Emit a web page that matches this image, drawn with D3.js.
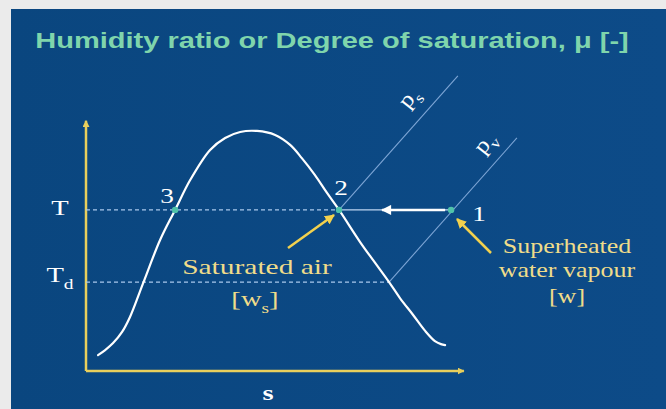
<!DOCTYPE html>
<html>
<head>
<meta charset="utf-8">
<script src="https://cdn.jsdelivr.net/npm/d3@7"></script>
<style>
  body { margin: 0; background: #ebebeb; }
  svg { display: block; }
</style>
</head>
<body>
<svg id="chart" width="666" height="409"></svg>
<script>
// saturation dome (entropy s vs temperature T), schematic units 0-100
const domeS = [3.2, 5.1, 7.2, 9.6, 11.7, 15.2, 19.7, 23.7, 27.7, 33.0, 37.0, 41.0, 45.5, 50.3, 54.3, 57.4, 60.9, 64.1, 67.3, 72.9, 76.9, 80.6, 83.5, 87.0, 90.2, 92.8, 94.4, 95.5];
const domeT = [6.4, 8.4, 11.2, 15.7, 21.7, 35.3, 52.6, 64.7, 76.7, 88.8, 93.6, 96.0, 96.4, 94.8, 90.8, 85.5, 78.7, 71.5, 64.7, 51.8, 43.4, 35.7, 29.3, 22.5, 16.1, 12.0, 10.8, 10.4];

// temperature levels
const levelNames = ['T', 'Td'];
const levelValues = [64.7, 35.7];
const levelEnds = [67.3, 80.6]; // dashed line ends (s)

// state points
const pointNames = ['1', '2', '3'];
const pointS = [97.1, 67.3, 23.7];
const pointT = [64.7, 64.7, 64.7];

// isobars
const psS = [67.3, 98.9];
const psT = [64.7, 118.5];
const pvS = [80.6, 114.6];
const pvT = [35.7, 93.6];

const title = 'Humidity ratio or Degree of saturation, \u03bc [-]';

const svg = d3.select('#chart');
const W = 666, H = 409;
const sx = 1.3; // slide is stretched horizontally

const defs = svg.append('defs');
const grad = defs.append('linearGradient').attr('id', 'bg').attr('x1', 0).attr('x2', 1).attr('y1', 0).attr('y2', 0);
grad.append('stop').attr('offset', 0).attr('stop-color', '#0a467f');
grad.append('stop').attr('offset', 1).attr('stop-color', '#0d4b88');

svg.append('rect').attr('x', 11).attr('y', 9).attr('width', W - 11).attr('height', H - 9).attr('fill', 'url(#bg)');

function marker(id, color, w, h) {
  defs.append('marker')
    .attr('id', id)
    .attr('viewBox', '0 0 10 10')
    .attr('refX', 9).attr('refY', 5)
    .attr('markerUnits', 'userSpaceOnUse')
    .attr('markerWidth', w).attr('markerHeight', h)
    .attr('orient', 'auto')
    .append('path').attr('d', 'M0,0 L10,5 L0,10 z').attr('fill', color);
}
marker('axisHead', '#e9cf5c', 7, 7);
marker('whiteHead', '#ffffff', 11, 10);
marker('yellowHead', '#f2d14e', 10, 10);

// scales
const x = d3.scaleLinear().domain([0, 100]).range([86, 462]);
const y = d3.scaleLinear().domain([0, 100]).range([371, 122]);

const serif = '"Liberation Serif", "Times New Roman", serif';

function label(px, py, txt, size, color, opts = {}) {
  const t = svg.append('text')
    .attr('transform', `translate(${px},${py}) ${opts.rot ? 'rotate(' + opts.rot + ')' : ''} scale(${opts.k || sx},1)`)
    .attr('text-anchor', opts.anchor || 'middle')
    .attr('font-family', opts.font || serif)
    .attr('font-size', size)
    .attr('font-weight', opts.weight || 'normal')
    .attr('fill', color);
  if (opts.sub) {
    t.append('tspan').text(txt);
    t.append('tspan').attr('dy', size * 0.3).attr('font-size', size * 0.68).text(opts.sub);
  } else {
    t.text(txt);
  }
  return t;
}

// title
label(332, 48, title, 22, '#7fd5ac', { font: '"Liberation Sans", Arial, sans-serif', weight: 'bold', k: 1.32 });

// axes
svg.append('line')
  .attr('x1', x(0)).attr('y1', y(0)).attr('x2', x(0)).attr('y2', y(100.5))
  .attr('stroke', '#e9cf5c').attr('stroke-width', 2.5).attr('marker-end', 'url(#axisHead)');
svg.append('line')
  .attr('x1', x(0)).attr('y1', y(0)).attr('x2', x(100.5)).attr('y2', y(0))
  .attr('stroke', '#e9cf5c').attr('stroke-width', 2.5).attr('marker-end', 'url(#axisHead)');

// dashed temperature levels
levelValues.forEach((v, i) => {
  svg.append('line')
    .attr('x1', x(0)).attr('x2', x(levelEnds[i]))
    .attr('y1', y(v)).attr('y2', y(v))
    .attr('stroke', '#a9c8ec').attr('stroke-width', 1.2)
    .attr('stroke-dasharray', '4,3');
});

// isobars
const line = d3.line().x((d) => x(d[0])).y((d) => y(d[1]));
[[psS, psT], [pvS, pvT]].forEach(([ss, tt]) => {
  svg.append('path')
    .datum(ss.map((s, i) => [s, tt[i]]))
    .attr('d', line)
    .attr('fill', 'none')
    .attr('stroke', '#7ea6d6').attr('stroke-width', 1.1);
});

// process line 1 -> 2
svg.append('line')
  .attr('x1', x(pointS[1])).attr('x2', x(pointS[0]))
  .attr('y1', y(pointT[0])).attr('y2', y(pointT[0]))
  .attr('stroke', '#bcd4f0').attr('stroke-width', 1.2);
svg.append('line')
  .attr('x1', x(pointS[0]) - 6).attr('x2', x(pointS[0]) - 69)
  .attr('y1', y(pointT[0])).attr('y2', y(pointT[0]))
  .attr('stroke', '#ffffff').attr('stroke-width', 2.5)
  .attr('marker-end', 'url(#whiteHead)');

// dome
svg.append('path')
  .datum(domeS.map((s, i) => [s, domeT[i]]))
  .attr('d', line.curve(d3.curveCatmullRom))
  .attr('fill', 'none')
  .attr('stroke', '#ffffff').attr('stroke-width', 2.2).attr('stroke-linecap', 'round');

// state points
svg.selectAll('circle.pt')
  .data(pointNames)
  .enter()
  .append('circle')
  .attr('class', 'pt')
  .attr('cx', (d, i) => x(pointS[i]))
  .attr('cy', (d, i) => y(pointT[i]))
  .attr('r', 3.2)
  .attr('fill', '#4fc3aa');

// point numbers
label(x(pointS[0]) + 28, y(pointT[0]) + 11, '1', 21, '#ffffff');
label(x(pointS[1]) + 2, y(pointT[1]) - 15, '2', 21, '#ffffff');
label(x(pointS[2]) - 8, y(pointT[2]) - 7, '3', 21, '#ffffff');

// axis labels
label(60, y(levelValues[0]) + 5, 'T', 22, '#ffffff');
label(60, y(levelValues[1]) + 0, 'T', 22, '#ffffff', { sub: 'd' });
label(268, 400, 's', 22, '#ffffff', { weight: 'bold' });

// isobar labels
label(414, 102, 'p', 22, '#ffffff', { rot: -52, sub: 's', k: 1.15 });
label(490, 147, 'p', 22, '#ffffff', { rot: -52, sub: 'v', k: 1.15 });

// annotations
const yellowText = '#efdc8a';
label(257, 274, 'Saturated air', 22, yellowText, { k: 1.34 });
label(255, 306, '[w', 22, yellowText, { sub: 's' }).append('tspan').attr('dy', -22 * 0.3).text(']');
label(567, 253, 'Superheated', 20, yellowText);
label(567, 277, 'water vapour', 20, yellowText);
label(567, 303, '[w]', 20, yellowText);

// pointer arrows
svg.append('line')
  .attr('x1', 288).attr('y1', 248).attr('x2', 334).attr('y2', 215)
  .attr('stroke', '#f2d14e').attr('stroke-width', 2.5)
  .attr('marker-end', 'url(#yellowHead)');
svg.append('line')
  .attr('x1', 491).attr('y1', 253).attr('x2', 457).attr('y2', 219)
  .attr('stroke', '#f2d14e').attr('stroke-width', 2.5)
  .attr('marker-end', 'url(#yellowHead)');
</script>
</body>
</html>
